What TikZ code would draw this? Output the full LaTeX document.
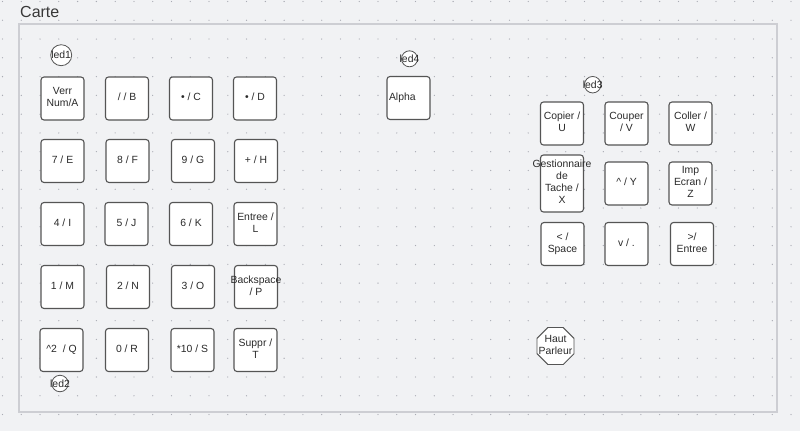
\documentclass[tikz,border=0pt]{standalone}
\usepackage{fontspec}
\setmainfont{Liberation Sans}
\usetikzlibrary{shapes.geometric}
\definecolor{bgc}{HTML}{F1F2F4}
\definecolor{dotc}{HTML}{A9ABB3}
\definecolor{framec}{HTML}{CDCED3}
\definecolor{keyedge}{HTML}{555555}
\definecolor{txtc}{HTML}{2A2A2A}
\newcommand{\keytext}[1]{\makebox[0pt][c]{\begin{tabular}{@{}c@{}}#1\end{tabular}}}
\tikzset{
  keybox/.style={draw=keyedge, fill=white, rounded corners=3pt, line width=1.1pt,
    minimum width=43pt, minimum height=43pt, inner sep=0pt,
    text=txtc, font=\fontsize{10.4}{12}\selectfont},
  ledc/.style={circle, draw=keyedge, fill=white, line width=0.8pt, inner sep=0pt,
    minimum size=#1, text=txtc, font=\fontsize{10.4}{12}\selectfont},
  speaker/.style={regular polygon, regular polygon sides=8, draw=keyedge, fill=white,
    line width=0.9pt, minimum size=40pt, inner sep=0pt, text=txtc,
    font=\fontsize{10.4}{12}\selectfont}
}
\begin{document}
\begin{tikzpicture}[x=1pt,y=-1pt]
\useasboundingbox (0,0) rectangle (800,431);
\fill[bgc] (0,0) rectangle (800,431);
% board
\draw[framec, line width=2pt, fill=bgc] (19,24) rectangle (777,412);
% dot grid
\foreach \i in {0,...,42} {
  \foreach \j in {0,...,22} {
    \fill[dotc] ({2.5+18.775*\i},{1.5+18.775*\j}) circle (0.65pt);
  }
}
\node[anchor=base west, text=black!78, font=\fontsize{16}{18}\selectfont, inner sep=0pt] (title) at (20,17.5) {Carte};
% left block
\node[keybox] (ka) at (62.5,98.5) {\keytext{Verr\\Num/A}};
\node[keybox] (kb) at (127,98.5) {\keytext{/ / B}};
\node[keybox] (kc) at (191,98.5) {\keytext{• / C}};
\node[keybox] (kd) at (255,98.5) {\keytext{• / D}};
\node[keybox] (ke) at (62.5,161) {\keytext{7 / E}};
\node[keybox] (kf) at (127.5,161) {\keytext{8 / F}};
\node[keybox] (kg) at (193,161) {\keytext{9 / G}};
\node[keybox] (kh) at (256,161) {\keytext{+ / H}};
\node[keybox] (ki) at (62.5,224) {\keytext{4 / I}};
\node[keybox] (kj) at (126.5,224) {\keytext{5 / J}};
\node[keybox] (kk) at (191,224) {\keytext{6 / K}};
\node[keybox] (kl) at (255.5,224) {\keytext{Entree /\\L}};
\node[keybox] (km) at (62.5,287) {\keytext{1 / M}};
\node[keybox] (kn) at (128,287) {\keytext{2 / N}};
\node[keybox] (ko) at (193,287) {\keytext{3 / O}};
\node[keybox] (kp) at (256,287) {\keytext{Backspace\\/ P}};
\node[keybox] (kq) at (61.5,350) {\keytext{\textasciicircum 2 \ / Q}};
\node[keybox] (kr) at (127,350) {\keytext{0 / R}};
\node[keybox] (ks) at (192.5,350) {\keytext{*10 / S}};
\node[keybox] (kt) at (255.5,350) {\keytext{Suppr /\\T}};
\node[ledc=21pt] (led1) at (61.2,55.2) {\makebox[0pt]{led1}};
\node[ledc=16.5pt] (led2) at (60,383.5) {\makebox[0pt]{led2}};
% alpha
\node[keybox] (kalpha) at (408.5,98) {\makebox[0pt][l]{\hspace*{-19.5pt}Alpha}};
\node[ledc=16pt] (led4) at (409.5,58.8) {\makebox[0pt]{led4}};
% right block
\node[keybox] (ku) at (562,123.5) {\keytext{Copier /\\U}};
\node[keybox] (kv) at (626.5,123.5) {\keytext{Couper\\/ V}};
\node[keybox] (kw) at (690.5,123.5) {\keytext{Coller /\\W}};
\node[keybox, minimum height=57pt] (kx) at (562,183.5) {\keytext{Gestionnaire\\de\\Tache /\\X}};
\node[keybox] (ky) at (626.5,183.5) {\keytext{\textasciicircum\ / Y}};
\node[keybox] (kz) at (690.5,183.5) {\keytext{Imp\\Ecran /\\Z}};
\node[keybox] (ksp) at (562.5,244) {\keytext{< /\\Space}};
\node[keybox] (kdot) at (626.5,244) {\keytext{v / .}};
\node[keybox] (kent) at (692,244) {\keytext{>/\\Entree}};
\node[ledc=16.5pt] (led3) at (592.7,84.7) {\makebox[0pt]{led3}};
\node[speaker] (hp) at (555.5,346) {\keytext{Haut\\Parleur}};
\end{tikzpicture}
\end{document}
